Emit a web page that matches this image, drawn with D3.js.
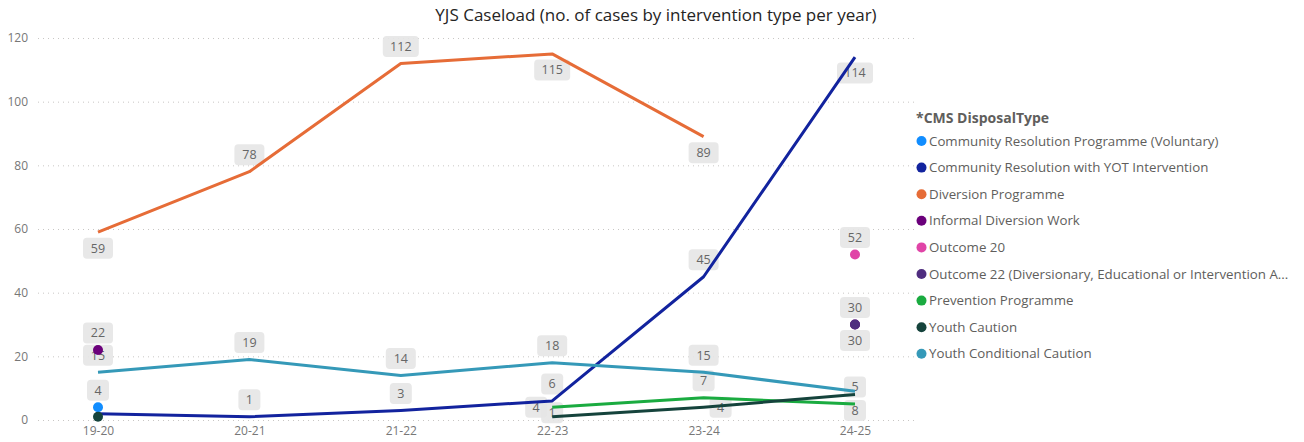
<!DOCTYPE html>
<html>
<head>
<meta charset="utf-8">
<script src="https://cdn.jsdelivr.net/npm/d3@7"></script>
<style>
  body { margin: 0; background: #fff; }
  svg { display: block; font-family: "Segoe UI", "Open Sans", sans-serif; }
</style>
</head>
<body>
<div id="chart"></div>
<script>
// YJS caseload line chart

const years = ["19-20", "20-21", "21-22", "22-23", "23-24", "24-25"];
const yTicks = [0, 20, 40, 60, 80, 100, 120];

const seriesNames = [
  "Community Resolution Programme (Voluntary)",
  "Community Resolution with YOT Intervention",
  "Diversion Programme",
  "Informal Diversion Work",
  "Outcome 20",
  "Outcome 22 (Diversionary, Educational or Intervention Activity)",
  "Prevention Programme",
  "Youth Caution",
  "Youth Conditional Caution"
];
const seriesColors = ["#118DFF", "#12239E", "#E66C37", "#6B007B", "#E044A7", "#4F2D7F", "#1AAB40", "#15433C", "#3599B8"];

// values per year, null = no data
const crpVoluntary = [4, null, null, null, null, null];
const crYot = [2, 1, 3, 6, 45, 114];
const diversion = [59, 78, 112, 115, 89, null];
const informal = [22, null, null, null, null, 30];
const outcome20 = [null, null, null, null, null, 52];
const outcome22 = [null, null, null, null, null, 30];
const prevention = [null, null, null, 4, 7, 5];
const youthCaution = [1, null, null, 1, 4, 8];
const youthCondCaution = [15, 19, 14, 18, 15, 9];

const seriesValues = [crpVoluntary, crYot, diversion, informal, outcome20, outcome22, prevention, youthCaution, youthCondCaution];

// label placement per point: a above, b below, l left, r right, c centred, null hidden
const labelPlace = [
  ["a", null, null, null, null, null],
  [null, "a", "a", "a", "a", "b"],
  ["b", "a", "a", "b", "b", null],
  ["a", null, null, null, null, "b"],
  [null, null, null, null, null, "a"],
  [null, null, null, null, null, "a"],
  [null, null, null, "l", "a", "a"],
  [null, null, null, "c", "r", "b"],
  ["a", "a", "a", "a", "a", null]
];

const width = 1304, height = 442;
const svg = d3.select("#chart").append("svg")
  .attr("width", width)
  .attr("height", height);

const x = d3.scalePoint().domain(years).range([98, 855]);
const y = d3.scaleLinear().domain([0, 120]).range([420, 38]);

svg.append("text")
  .attr("x", 656).attr("y", 21)
  .attr("text-anchor", "middle")
  .attr("font-size", 17)
  .attr("fill", "#252423")
  .text("YJS Caseload (no. of cases by intervention type per year)");

// gridlines + y labels
const yAxis = svg.append("g")
  .attr("transform", "translate(38,0)")
  .call(d3.axisLeft(y).tickValues(yTicks).tickSize(-877).tickPadding(10));
yAxis.select(".domain").remove();
yAxis.selectAll(".tick line")
  .attr("stroke", "#C8C6C4")
  .attr("stroke-dasharray", "1,4");
yAxis.selectAll(".tick text")
  .attr("fill", "#777")
  .attr("font-size", 12)
  .attr("font-family", "Segoe UI, Open Sans, sans-serif");

const xAxis = svg.append("g")
  .attr("transform", "translate(0,420)")
  .call(d3.axisBottom(x).tickSize(0).tickPadding(6));
xAxis.select(".domain").remove();
xAxis.selectAll(".tick text")
  .attr("fill", "#777")
  .attr("font-size", 12)
  .attr("font-family", "Segoe UI, Open Sans, sans-serif");

const series = seriesNames.map((name, i) => ({
  name: name,
  color: seriesColors[i],
  points: seriesValues[i].map((v, j) => ({ year: years[j], value: v, place: labelPlace[i][j] }))
}));

const line = d3.line()
  .defined(d => d.value != null)
  .x(d => x(d.year))
  .y(d => y(d.value));

// data labels (lines are drawn over them)
const labels = svg.append("g");
series.forEach(s => {
  s.points.forEach(p => {
    if (p.value == null || !p.place) return;
    const txt = String(p.value);
    const w = txt.length === 1 ? 22 : (txt.length === 2 ? 30 : 36);
    const h = 21;
    let cx = x(p.year), cy = y(p.value);
    if (p.place === "a") cy -= 17;
    else if (p.place === "b") cy += 16;
    else if (p.place === "l") cx -= 16;
    else if (p.place === "r") cx += 17;
    else if (p.place === "c") cy -= 4;
    const g = labels.append("g").attr("transform", `translate(${cx},${cy})`);
    g.append("rect")
      .attr("x", -w / 2).attr("y", -h / 2)
      .attr("width", w).attr("height", h)
      .attr("rx", 4)
      .attr("fill", "#E6E6E6")
      .attr("fill-opacity", 0.9);
    g.append("text")
      .attr("text-anchor", "middle")
      .attr("dy", "0.35em")
      .attr("font-size", 12.5)
      .attr("fill", "#666")
      .text(txt);
  });
});

const plot = svg.append("g");
series.forEach(s => {
  plot.append("path")
    .datum(s.points)
    .attr("fill", "none")
    .attr("stroke", s.color)
    .attr("stroke-width", 3)
    .attr("stroke-linejoin", "round")
    .attr("d", line);
});

// isolated points get a dot
const dots = svg.append("g");
series.forEach(s => {
  s.points.forEach((p, j) => {
    if (p.value == null) return;
    const prev = s.points[j - 1], next = s.points[j + 1];
    const alone = (!prev || prev.value == null) && (!next || next.value == null);
    if (alone) {
      dots.append("circle")
        .attr("cx", x(p.year))
        .attr("cy", y(p.value))
        .attr("r", 5)
        .attr("fill", s.color);
    }
  });
});

// legend
const legend = svg.append("g").attr("transform", "translate(916,0)");
legend.append("text")
  .attr("x", 0).attr("y", 123)
  .attr("font-size", 14)
  .attr("font-weight", "bold")
  .attr("fill", "#605E5C")
  .text("*CMS DisposalType");

const maxLegendW = 365;
series.forEach((s, i) => {
  const ly = 141 + i * 26.6;
  legend.append("circle")
    .attr("cx", 5.5).attr("cy", ly)
    .attr("r", 5)
    .attr("fill", s.color);
  const t = legend.append("text")
    .attr("x", 13).attr("y", ly)
    .attr("dy", "0.35em")
    .attr("font-size", 13.3)
    .attr("fill", "#605E5C")
    .text(s.name);
  // truncate long names the way the legend does
  if (t.node().getComputedTextLength() > maxLegendW) {
    let str = s.name;
    while (str.length > 0) {
      str = str.slice(0, -1);
      t.text(str + "...");
      if (t.node().getComputedTextLength() <= maxLegendW) break;
    }
  }
});
</script>
</body>
</html>
